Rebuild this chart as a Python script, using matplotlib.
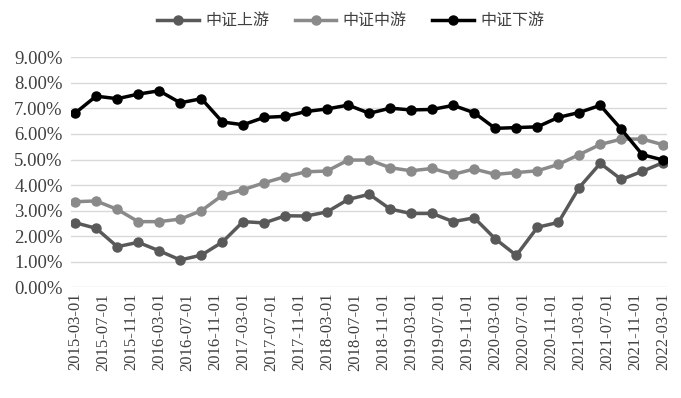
import matplotlib
matplotlib.use("Agg")
import matplotlib.dates as mdates
import matplotlib.pyplot as plt
import matplotlib.ticker as mticker
import pandas as pd

plt.rcParams["font.family"] = ["Noto Sans CJK SC", "DejaVu Sans"]

# 季度数据（2015-03 至 2022-03）
fechas = pd.date_range("2015-03-01", "2022-03-01", freq="3MS")

shangyou = [2.53, 2.31, 1.59, 1.76, 1.43, 1.07, 1.26, 1.77, 2.57, 2.52,
            2.80, 2.79, 2.95, 3.44, 3.64, 3.06, 2.89, 2.89, 2.57, 2.72,
            1.90, 1.25, 2.35, 2.54, 3.90, 4.85, 4.22, 4.54, 4.88]
zhongyou = [3.35, 3.38, 3.05, 2.57, 2.57, 2.67, 3.00, 3.60, 3.82, 4.09,
            4.33, 4.52, 4.55, 4.98, 4.98, 4.68, 4.56, 4.65, 4.42, 4.63,
            4.42, 4.49, 4.56, 4.81, 5.19, 5.59, 5.80, 5.80, 5.58]
xiayou = [6.81, 7.48, 7.38, 7.56, 7.69, 7.22, 7.38, 6.47, 6.36, 6.65,
          6.69, 6.88, 6.98, 7.13, 6.81, 7.01, 6.94, 6.96, 7.12, 6.83,
          6.22, 6.25, 6.28, 6.65, 6.84, 7.12, 6.18, 5.19, 4.98]

series = [
    ("中证上游", shangyou, "#595959"),
    ("中证中游", zhongyou, "#8a8a8a"),
    ("中证下游", xiayou, "#000000"),
]

fig = plt.figure(figsize=(6.81, 3.98), dpi=100)
ax = fig.add_axes([0.1043, 0.2781, 0.8751, 0.5779])

for nombre, valores, color in series:
    ax.plot(fechas, [v / 100 for v in valores], color=color, linewidth=2.5,
            marker="o", markersize=6.5, label=nombre, zorder=3)

ax.set_ylim(0, 0.09)
ax.yaxis.set_major_locator(mticker.MultipleLocator(0.01))
ax.yaxis.set_major_formatter(mticker.FuncFormatter(lambda v, p: f"{v * 100:.2f}%"))
ax.set_xlim(fechas[0] - pd.Timedelta(days=17), fechas[-1] + pd.Timedelta(days=17))
ax.xaxis.set_major_locator(mdates.MonthLocator(bymonth=(3, 7, 11), bymonthday=1))
ax.xaxis.set_major_formatter(mdates.DateFormatter("%Y-%m-%d"))

ax.grid(axis="y", color="#d9d9d9", linewidth=1)
ax.set_axisbelow(True)
for spine in ax.spines.values():
    spine.set_visible(False)
ax.tick_params(axis="both", length=0, colors="#404040")
ax.tick_params(axis="y", pad=6)
ax.tick_params(axis="x", pad=4)
for lbl in ax.get_yticklabels():
    lbl.set_fontfamily("Liberation Serif")
    lbl.set_fontsize(13.5)
for lbl in ax.get_xticklabels():
    lbl.set_fontfamily("Liberation Serif")
    lbl.set_fontsize(12)
    lbl.set_rotation(90)

fig.legend(loc="center", bbox_to_anchor=(0.515, 0.948), ncol=3, frameon=False,
           fontsize=11.5, handlelength=2.6, columnspacing=1.6, handletextpad=0.4,
           labelcolor="#404040")

fig.savefig("out.png", dpi=100)
